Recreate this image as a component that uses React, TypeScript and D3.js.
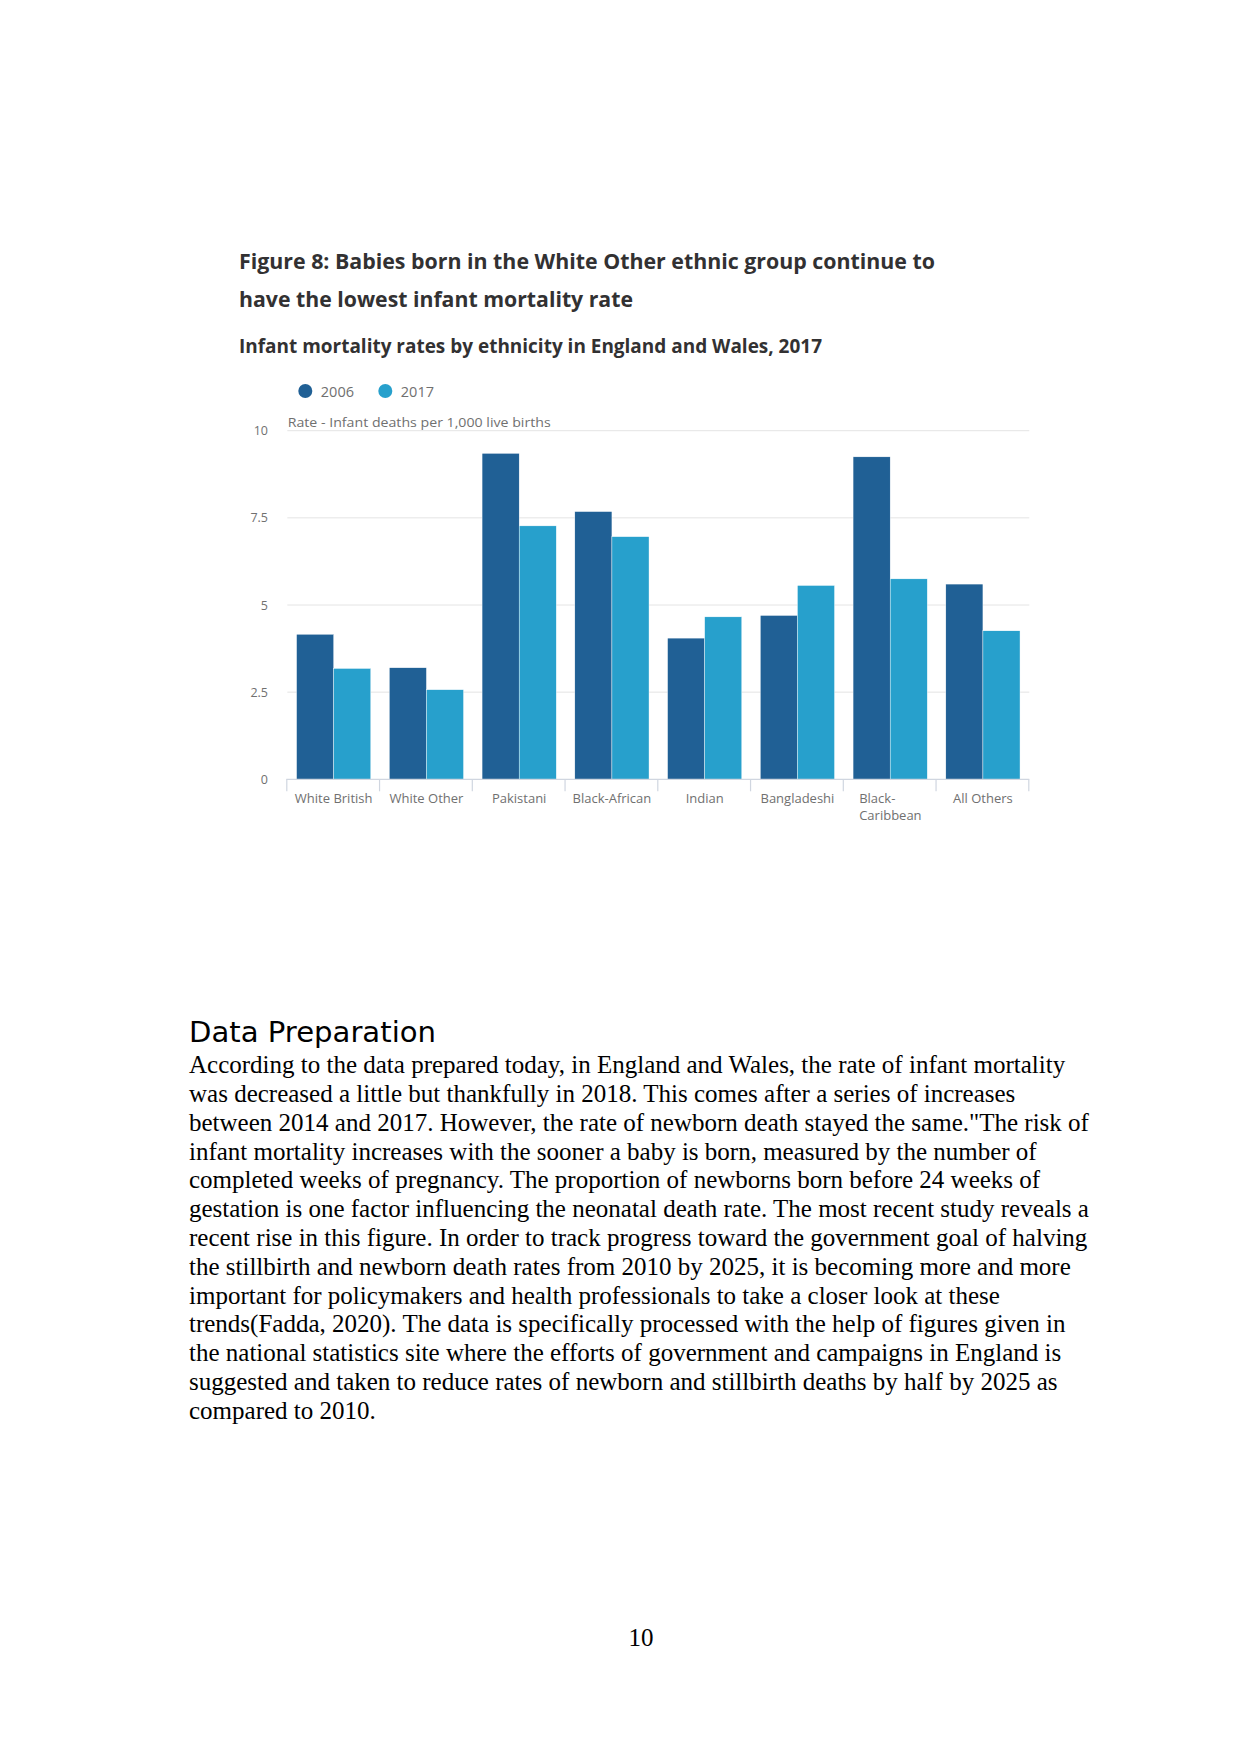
import React from "react";
import * as d3 from "d3";

const categories = ["White British", "White Other", "Pakistani", "Black-African", "Indian", "Bangladeshi", "Black-Caribbean", "All Others"];
const seriesNames = ["2006", "2017"];
const values2006 = [4.16, 3.2, 9.35, 7.68, 4.05, 4.7, 9.25, 5.6];
const values2017 = [3.18, 2.57, 7.27, 6.96, 4.66, 5.56, 5.75, 4.26];
const yTicks = [0, 2.5, 5, 7.5, 10];
const yTickLabels = ["0", "2.5", "5", "7.5", "10"];

const titleLines = [
  "Figure 8: Babies born in the White Other ethnic group continue to",
  "have the lowest infant mortality rate",
];
const subtitle = "Infant mortality rates by ethnicity in England and Wales, 2017";
const axisTitle = "Rate - Infant deaths per 1,000 live births";
const heading = "Data Preparation";
const bodyLines = [
  "According to the data prepared today, in England and Wales, the rate of infant mortality",
  "was decreased a little but thankfully in 2018. This comes after a series of increases",
  "between 2014 and 2017. However, the rate of newborn death stayed the same.\"The risk of",
  "infant mortality increases with the sooner a baby is born, measured by the number of",
  "completed weeks of pregnancy. The proportion of newborns born before 24 weeks of",
  "gestation is one factor influencing the neonatal death rate. The most recent study reveals a",
  "recent rise in this figure. In order to track progress toward the government goal of halving",
  "the stillbirth and newborn death rates from 2010 by 2025, it is becoming more and more",
  "important for policymakers and health professionals to take a closer look at these",
  "trends(Fadda, 2020). The data is specifically processed with the help of figures given in",
  "the national statistics site where the efforts of government and campaigns in England is",
  "suggested and taken to reduce rates of newborn and stillbirth deaths by half by 2025 as",
  "compared to 2010.",
];
const pageNumber = "10";

const COLORS = ["#206095", "#27a0cc"];
const TICK_COLOR = "#707070";
const SANS = "'Open Sans', 'Noto Sans', sans-serif";

export default function App() {
  const W = 1241;
  const H = 1754;
  const plotLeft = 287.3;
  const plotRight = 1029.3;
  const plotTop = 430.7;
  const plotBottom = 779.3;

  const x0 = d3.scaleBand<string>().domain(categories).range([plotLeft, plotRight]).paddingInner(0.2).paddingOuter(0.1);
  const x1 = d3.scaleBand<string>().domain(seriesNames).range([0, x0.bandwidth()]).padding(0);
  const y = d3.scaleLinear().domain([0, 10]).range([plotBottom, plotTop]);
  const step = x0.step();
  const boundaries = d3.range(categories.length + 1).map((i) => plotLeft + i * step);

  const data = categories.map((c, i) => ({ cat: c, vals: [values2006[i], values2017[i]] }));

  return (
    <svg width={W} height={H} style={{ position: "absolute", left: 0, top: 0, background: "#fff" }}>
      <rect x={0} y={0} width={W} height={H} fill="#fff" />
      {/* Titles */}
      <text x={239} y={269.3} fontFamily={SANS} fontWeight={700} fontSize={22} fill="#323132" textLength={696} lengthAdjust="spacingAndGlyphs">
        {titleLines[0]}
      </text>
      <text x={239} y={306.7} fontFamily={SANS} fontWeight={700} fontSize={22} fill="#323132" textLength={394} lengthAdjust="spacingAndGlyphs">
        {titleLines[1]}
      </text>
      <text x={239} y={353.3} fontFamily={SANS} fontWeight={700} fontSize={19.5} fill="#323132" textLength={583} lengthAdjust="spacingAndGlyphs">
        {subtitle}
      </text>

      {/* Legend */}
      {seriesNames.map((s, i) => {
        const cx = [305.3, 385.3][i];
        return (
          <g key={s}>
            <circle cx={cx} cy={391} r={7} fill={COLORS[i]} />
            <text x={cx + 15.5} y={396.8} fontFamily={SANS} fontSize={14.5} fill={TICK_COLOR}>
              {s}
            </text>
          </g>
        );
      })}

      {/* Gridlines */}
      {yTicks.filter((t) => t > 0).map((t) => (
        <line key={t} x1={plotLeft} x2={plotRight} y1={y(t)} y2={y(t)} stroke="#e4e4e4" strokeWidth={1} />
      ))}
      {/* Y tick labels */}
      {yTicks.map((t, i) => (
        <text key={t} x={268} y={y(t) + 4.5} textAnchor="end" fontFamily={SANS} fontSize={12.5} fill={TICK_COLOR}>
          {yTickLabels[i]}
        </text>
      ))}
      {/* Axis title */}
      <text x={287.7} y={427.3} fontFamily={SANS} fontSize={13.5} fill={TICK_COLOR} textLength={263} lengthAdjust="spacingAndGlyphs">
        {axisTitle}
      </text>

      {/* Bars */}
      {data.map((d) => (
        <g key={d.cat} transform={`translate(${x0(d.cat)},0)`}>
          {d.vals.map((v, j) => (
            <rect
              key={j}
              x={x1(seriesNames[j])}
              y={y(v)}
              width={x1.bandwidth()}
              height={y(0) - y(v)}
              fill={COLORS[j]}
              stroke="#ffffff"
              strokeWidth={0.4}
            />
          ))}
        </g>
      ))}

      {/* X axis */}
      <line x1={plotLeft - 1} x2={plotRight} y1={plotBottom} y2={plotBottom} stroke="#d0d6e0" strokeWidth={1.2} />
      {boundaries.map((bx, i) => (
        <line key={i} x1={bx - 0.5} x2={bx - 0.5} y1={plotBottom} y2={plotBottom + 12} stroke="#d0d6e0" strokeWidth={1.2} />
      ))}
      {categories.map((c) => {
        const cx = (x0(c) as number) + x0.bandwidth() / 2;
        if (c.includes("-") && c === "Black-Caribbean") {
          return (
            <text key={c} x={cx - 31} y={803.3} fontFamily={SANS} fontSize={13} fill={TICK_COLOR}>
              <tspan x={cx - 31}>Black-</tspan>
              <tspan x={cx - 31} dy={16.7}>Caribbean</tspan>
            </text>
          );
        }
        return (
          <text key={c} x={cx} y={803.3} textAnchor="middle" fontFamily={SANS} fontSize={13} fill={TICK_COLOR}>
            {c}
          </text>
        );
      })}

      {/* Body text */}
      <text x={189} y={1042.3} fontFamily="'DejaVu Sans', sans-serif" fontSize={29} fill="#000" textLength={247} lengthAdjust="spacingAndGlyphs">
        {heading}
      </text>
      {bodyLines.map((line, i) => (
        <text key={i} x={189} y={1073.3 + i * 28.79} fontFamily="'Liberation Serif', 'Times New Roman', serif" fontSize={25} fill="#000">
          {line}
        </text>
      ))}
      <text x={641} y={1646} textAnchor="middle" fontFamily="'Liberation Serif', 'Times New Roman', serif" fontSize={25} fill="#000">
        {pageNumber}
      </text>
    </svg>
  );
}
